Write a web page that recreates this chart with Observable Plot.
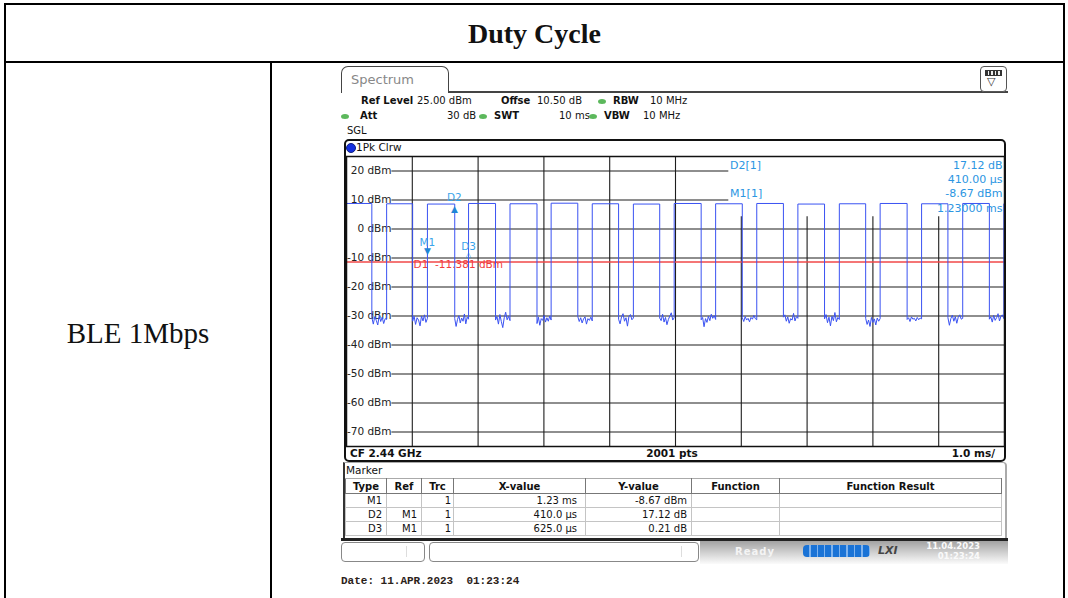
<!DOCTYPE html>
<html><head><meta charset="utf-8">
<script src="https://cdn.jsdelivr.net/npm/d3@7"></script>
<script src="https://cdn.jsdelivr.net/npm/@observablehq/plot@0.6"></script>
<style>
html,body{margin:0;padding:0;background:#fff;}
#page{position:relative;width:1068px;height:598px;overflow:hidden;font-family:"DejaVu Sans",Verdana,sans-serif;color:#111;}
.ln{position:absolute;background:#000;}
.t{position:absolute;font-size:10px;line-height:12px;white-space:pre;}
.b{font-weight:bold;}
.dot{position:absolute;width:8px;height:5px;border-radius:50%;background:#5cb85c;}
#plotwrap{position:absolute;left:346px;top:156px;width:658px;height:290px;}
#plotwrap svg{overflow:visible;}
#plotwrap svg text{white-space:pre;}
table.mk{position:absolute;left:345px;top:478px;border-collapse:collapse;table-layout:fixed;font-size:10px;}
table.mk td,table.mk th{height:13px;padding:0 4px;line-height:13px;border:1px solid #c4c4c4;white-space:nowrap;overflow:hidden;}
table.mk th{border:1px solid #777;border-top:1px solid #aaa;font-weight:bold;text-align:center;height:14px;}
table.mk td{text-align:right;}
</style></head>
<body><div id="page">
  <!-- document table borders -->
  <div class="ln" style="left:4px;top:3px;width:1061px;height:2px"></div>
  <div class="ln" style="left:4px;top:3px;width:2px;height:600px"></div>
  <div class="ln" style="left:1063px;top:3px;width:2px;height:600px"></div>
  <div class="ln" style="left:4px;top:61px;width:1061px;height:2px"></div>
  <div class="ln" style="left:270px;top:61px;width:2px;height:540px"></div>
  <div id="title" style="position:absolute;left:6px;top:5px;width:1057px;height:58px;display:flex;align-items:center;justify-content:center;font:bold 28px 'Liberation Serif',serif;"></div>
  <div id="rowlabel" style="position:absolute;left:6px;top:63px;width:264px;height:541px;display:flex;align-items:center;justify-content:center;font:29px 'Liberation Serif',serif;"></div>

  <!-- instrument tab -->
  <div style="position:absolute;left:341px;top:66px;width:106px;height:26px;border:1.5px solid #444;border-bottom:none;border-radius:7px 7px 0 0;"></div>
  <div class="t" style="left:351px;top:72px;font-size:13px;line-height:15px;color:#888">Spectrum</div>
  <div class="ln" style="left:448px;top:91px;width:560px;height:1.5px;background:#444"></div>
  <div style="position:absolute;left:980px;top:66px;width:25px;height:24px;border:1.3px solid #555;border-radius:4px;background:#fff"></div>
  <div style="position:absolute;left:985px;top:70px;width:15px;height:4px;background:repeating-linear-gradient(to right,#333 0px,#333 2px,#eee 2px,#eee 3.5px);border:1px solid #333"></div>
  <div class="t" style="left:987px;top:76px;font-size:11px;color:#333">▽</div>

  <!-- settings -->
  <div class="t b" style="left:361px;top:95px">Ref Level</div>
  <div class="t" style="left:417px;top:95px">25.00 dBm</div>
  <div class="t b" style="left:501px;top:95px">Offse</div>
  <div class="t" style="left:537px;top:95px">10.50 dB</div>
  <div class="dot" style="left:598px;top:99px"></div>
  <div class="t b" style="left:613px;top:95px">RBW</div>
  <div class="t" style="left:650px;top:95px">10 MHz</div>
  <div class="dot" style="left:341px;top:114px"></div>
  <div class="t b" style="left:360px;top:110px">Att</div>
  <div class="t" style="left:447px;top:110px">30 dB</div>
  <div class="dot" style="left:479px;top:114px"></div>
  <div class="t b" style="left:494px;top:110px">SWT</div>
  <div class="t" style="left:559px;top:110px">10 ms</div>
  <div class="dot" style="left:589px;top:114px"></div>
  <div class="t b" style="left:604px;top:110px">VBW</div>
  <div class="t" style="left:643px;top:110px">10 MHz</div>
  <div class="t" style="left:347px;top:125px">SGL</div>

  <!-- graph box -->
  <div style="position:absolute;left:344px;top:139px;width:658px;height:319px;border:2px solid #111;border-radius:5px;"></div>
  <div style="position:absolute;left:346px;top:143px;width:8px;height:8px;border-radius:50%;background:#1530e0;border:0.5px solid #102080"></div>
  <div class="t" style="left:356px;top:141px;font-size:10.5px;line-height:13px">1Pk Clrw</div>
  <div class="t b" style="left:350px;top:447px;font-size:10.5px;line-height:13px">CF 2.44 GHz</div>
  <div class="t b" style="left:622px;top:447px;width:100px;text-align:center;font-size:10.5px;line-height:13px">2001 pts</div>
  <div class="t b" style="left:895px;top:447px;width:100px;text-align:right;font-size:10.5px;line-height:13px">1.0 ms/</div>
  <div id="plotwrap"></div>

  <!-- marker panel -->
  <div style="position:absolute;left:343px;top:462px;width:660px;height:76px;border-left:2px solid #333;border-right:2px solid #aaa;border-top:1px solid #aaa;border-radius:0 4px 0 0;"></div>
  <div class="t" style="left:346px;top:464px;font-size:10.5px">Marker</div>
  <table class="mk" id="mk">
    <colgroup><col style="width:41px"><col style="width:35px"><col style="width:32px"><col style="width:132px"><col style="width:106px"><col style="width:88px"><col style="width:222px"></colgroup>
  </table>

  <!-- status bar -->
  <div class="ln" style="left:341px;top:538px;width:667px;height:3px;background:#222"></div>
  <div style="position:absolute;left:700px;top:541px;width:308px;height:23px;background:linear-gradient(to bottom,#a2a2a2 0%,#d0d0d0 50%,#fbfbfb 100%)"></div>
  <div style="position:absolute;left:341px;top:542px;width:82px;height:18px;border:1px solid #888;border-radius:4px;background:#fff"></div>
  <div class="ln" style="left:406px;top:546px;width:1px;height:11px;background:#ddd"></div>
  <div style="position:absolute;left:429px;top:542px;width:268px;height:18px;border:1px solid #888;border-radius:4px;background:#fff"></div>
  <div class="ln" style="left:681px;top:546px;width:1px;height:11px;background:#ddd"></div>
  <div class="t b" style="left:735px;top:546px;font-size:10px;color:#f4f4f4;letter-spacing:1px">Ready</div>
  <div style="position:absolute;left:803px;top:545px;width:67px;height:12px;border-radius:4px;background:repeating-linear-gradient(to right,#1a73d6 0px,#1a73d6 6px,#7fb3ee 6px,#7fb3ee 7.5px)"></div>
  <div class="t b" style="left:878px;top:545px;font-size:11px;font-style:italic;color:#444">LXI</div>
  <div class="t b" style="left:925px;top:541px;width:55px;text-align:right;font-size:8.5px;line-height:10px;color:#fafafa">11.04.2023
01:23:24</div>

  <div class="t b" style="left:341px;top:575px;font-family:'Liberation Mono',monospace;font-size:11px;line-height:13px;color:#2b2219">Date: 11.APR.2023  01:23:24</div>
</div>
<script>
// ---- text content ----
const titleText = "Duty Cycle";
const rowLabel = "BLE 1Mbps";

// ---- axes ----
const timeTicksMs = [1, 2, 3, 4, 5, 6, 7, 8, 9];
const levelTicksDbm = [20, 10, 0, -10, -20, -30, -40, -50, -60, -70];

// ---- trace (zero span, 10 ms sweep) ----
const fallMs = [0.385, 1.005, 1.645, 2.265, 2.895, 3.515, 4.135, 4.76, 5.39, 6.015, 6.64, 7.265, 7.89, 8.52, 9.14, 9.77];
const riseMs = [0.61, 1.23, 1.855, 2.485, 3.11, 3.735, 4.36, 4.98, 5.61, 6.235, 6.86, 7.49, 8.11, 8.74, 9.365, 9.99];
const highDbm = [8.8, 8.7, 8.6, 8.8, 8.7, 8.9, 8.7, 8.6, 8.8, 8.7, 8.8, 8.6, 8.7, 8.8, 8.7, 8.8, 8.7];
const gapNoiseDbm = [
  [-30.5,-32.8,-30.2,-31.5,-33.1,-29.8,-31.9,-30.4,-32.6,-30.9,-31.2],
  [-31.8,-30.1,-32.9,-30.6,-31.4,-33.4,-30.0,-31.7,-29.6,-32.2,-30.8],
  [-30.9,-33.6,-31.2,-29.9,-32.4,-30.7,-31.8,-29.3,-32.7,-30.4,-31.1],
  [-31.4,-30.2,-32.8,-29.5,-31.9,-34.0,-30.6,-28.7,-31.3,-30.1,-31.6],
  [-32.6,-30.4,-33.2,-30.9,-31.5,-29.8,-32.1,-30.6,-31.8,-30.0,-31.4],
  [-30.2,-31.9,-30.6,-32.4,-31.0,-30.3,-32.8,-30.9,-31.5,-30.4,-31.7],
  [-31.1,-32.7,-30.3,-29.2,-31.8,-30.6,-33.5,-30.1,-29.5,-31.3,-30.7],
  [-30.7,-31.6,-29.4,-32.1,-30.5,-33.0,-31.2,-30.0,-28.9,-31.4,-30.6],
  [-31.3,-30.5,-33.7,-30.9,-32.2,-30.1,-31.6,-29.4,-30.8,-29.9,-31.2],
  [-30.6,-31.9,-30.2,-31.4,-30.8,-32.0,-30.5,-31.1,-29.8,-30.9,-31.3],
  [-30.4,-29.6,-31.8,-30.3,-32.5,-30.9,-31.4,-29.1,-31.7,-30.2,-30.8],
  [-31.0,-29.5,-32.3,-30.4,-33.4,-30.1,-31.6,-28.8,-32.0,-30.5,-31.2],
  [-30.8,-32.9,-31.4,-33.6,-30.5,-32.2,-31.0,-33.1,-30.7,-31.8,-30.9],
  [-31.2,-30.6,-31.9,-30.3,-31.1,-30.8,-31.7,-30.5,-31.3,-30.7,-31.0],
  [-30.6,-33.2,-30.9,-29.7,-31.8,-30.2,-32.5,-30.4,-29.6,-31.1,-30.8],
  [-31.1,-30.3,-32.1,-29.8,-31.5,-30.6,-29.2,-31.7,-30.1,-29.6,-30.9]
];

// ---- markers ----
const markerNames = ["M1", "D2", "D3"];
const markerTimesMs = [1.23, 1.64, 1.855];
const markerLevelsDbm = [-8.67, 8.45, -8.46];
const markerGlyphs = ["▼", "▲", "△"];
const d1LevelDbm = -11.381;
const d1Label = "D1  -11.381 dBm";
const infoLeft = ["D2[1]", "", "M1[1]"];
const infoRight = ["17.12 dB", "410.00 µs", "-8.67 dBm", "1.23000 ms"];

// ---- marker table ----
const tableHeader = ["Type", "Ref", "Trc", "X-value", "Y-value", "Function", "Function Result"];
const tableType = ["M1", "D2", "D3"];
const tableRef = ["", "M1", "M1"];
const tableTrc = ["1", "1", "1"];
const tableX = ["1.23 ms", "410.0 µs", "625.0 µs"];
const tableY = ["-8.67 dBm", "17.12 dB", "0.21 dB"];

document.getElementById("title").textContent = titleText;
document.getElementById("rowlabel").textContent = rowLabel;

// build marker table
const mk = document.getElementById("mk");
const hr = document.createElement("tr");
tableHeader.forEach(h => { const th = document.createElement("th"); th.textContent = h; hr.appendChild(th); });
mk.appendChild(hr);
tableType.forEach((ty, i) => {
  const tr = document.createElement("tr");
  [ty, tableRef[i], tableTrc[i], tableX[i], tableY[i], "", ""].forEach((v, j) => {
    const td = document.createElement("td"); td.textContent = v;
    if (j === 3) td.style.paddingRight = "8px";
    if (j === 2) td.style.paddingRight = "2px";
    tr.appendChild(td);
  });
  mk.appendChild(tr);
});

// build trace table
const trace = [{t: 0, v: highDbm[0]}];
fallMs.forEach((f, i) => {
  trace.push({t: f, v: highDbm[i]});
  const g = gapNoiseDbm[i], r = riseMs[i], n = g.length;
  g.forEach((v, j) => trace.push({t: f + (r - f) * j / (n - 1), v}));
  trace.push({t: r, v: highDbm[i + 1]});
});
trace.push({t: 10, v: highDbm[highDbm.length - 1]});

const markers = markerNames.map((name, i) => ({name, t: markerTimesMs[i], v: markerLevelsDbm[i], g: markerGlyphs[i]}));

const gridStroke = "#1e1e1e";
const blue = "#2b96e2";
const chart = Plot.plot({
  width: 658, height: 290, margin: 0,
  x: {domain: [0, 10], axis: null},
  y: {domain: [-75, 25], axis: null},
  style: {fontFamily: "DejaVu Sans, Verdana, sans-serif", fontSize: "10.5px", background: "transparent", overflow: "visible"},
  marks: [
    Plot.ruleY(levelTicksDbm.filter(d => d < 10), {x1: 0.69, x2: 10, stroke: gridStroke, strokeWidth: 1.1}),
    Plot.ruleY(levelTicksDbm.filter(d => d >= 10), {x1: 0.69, x2: 5.81, stroke: gridStroke, strokeWidth: 1.1}),
    Plot.ruleX(timeTicksMs.filter(d => d <= 5), {y1: -75, y2: 25, stroke: gridStroke, strokeWidth: 1.1}),
    Plot.ruleX(timeTicksMs.filter(d => d > 5), {y1: -75, y2: 4.2, stroke: gridStroke, strokeWidth: 1.1}),
    Plot.axisY(levelTicksDbm, {anchor: "left", label: null, tickSize: 0, tickPadding: 0, dx: 45, tickFormat: d => `${d} dBm`, fill: "#222", fontSize: 10.5}),
    Plot.ruleY([d1LevelDbm], {stroke: "#f04848", strokeWidth: 1.3}),
    Plot.text([d1Label], {x: 1.02, y: d1LevelDbm, text: d => d, textAnchor: "start", fill: "#f23c3c", dy: 3, fontSize: 10.5}),
    Plot.line(trace, {x: "t", y: "v", stroke: "#3a52f2", strokeWidth: 1}),
    Plot.text(markers, {x: "t", y: "v", text: "g", fill: "#1f86d6", fontSize: 9, filter: d => d.name === "M1", dy: -3}),
    Plot.text(markers, {x: "t", y: "v", text: "g", fill: "#1f86d6", fontSize: 9, filter: d => d.name === "D2", dy: 5}),
    Plot.text(markers, {x: "t", y: "v", text: "g", fill: "#1f86d6", fontSize: 7, filter: d => d.name === "D3", dy: 1}),
    Plot.text(markers, {x: "t", y: "v", text: "name", fill: "#3aa4ea", fontSize: 10.5, filter: d => d.name === "M1", dy: -12}),
    Plot.text(markers, {x: "t", y: "v", text: "name", fill: "#3aa4ea", fontSize: 10.5, filter: d => d.name !== "M1", dy: -7}),
    Plot.text([infoLeft.join("\n")], {x: 5.83, frameAnchor: "top", textAnchor: "start", lineAnchor: "top", lineHeight: 1.3, dy: 2, fill: blue, fontSize: 11}),
    Plot.text([infoRight.join("\n")], {frameAnchor: "top-right", textAnchor: "end", lineAnchor: "top", lineHeight: 1.3, dy: 2, dx: -2, fill: blue, fontSize: 11}),
    Plot.frame({stroke: "#111", strokeWidth: 1.5})
  ]
});
document.getElementById("plotwrap").appendChild(chart);
</script>
</body></html>
